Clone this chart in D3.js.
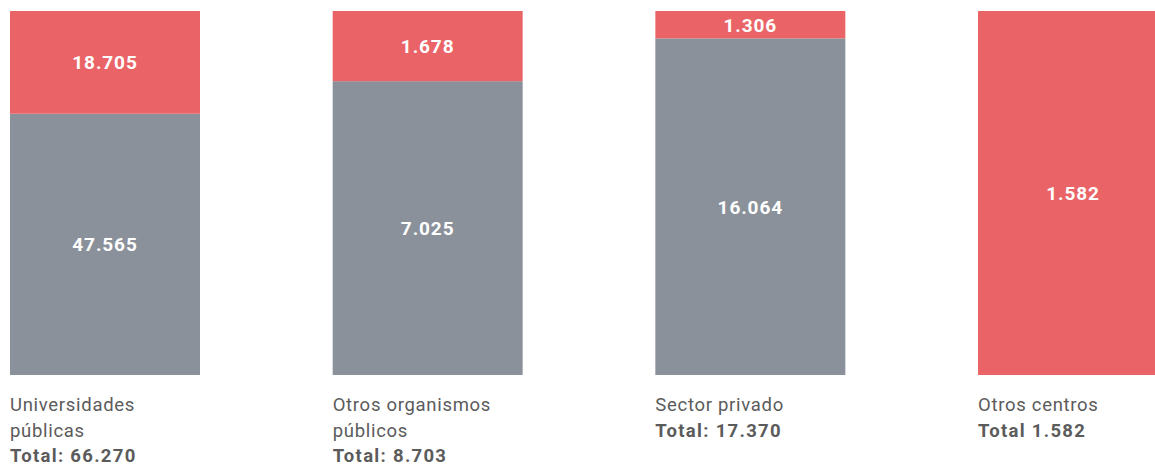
<!DOCTYPE html>
<html>
<head>
<meta charset="utf-8">
<script src="https://cdn.jsdelivr.net/npm/d3@7"></script>
<style>
  html, body { margin: 0; padding: 0; background: #fff; overflow: hidden; }
  svg { display: block; font-family: Roboto, "Noto Sans", sans-serif; }
</style>
</head>
<body>
<svg id="chart"></svg>
<script>
const categories = ["Universidades públicas", "Otros organismos públicos", "Sector privado", "Otros centros"];
const labelLines = [["Universidades", "públicas"], ["Otros organismos", "públicos"], ["Sector privado"], ["Otros centros"]];
const totalLabels = ["Total: 66.270", "Total: 8.703", "Total: 17.370", "Total 1.582"];
const grayValues = [47565, 7025, 16064, 0];
const redValues = [18705, 1678, 1306, 1582];

const w = 1155;
const h = 466;
const red = "#ea6467";
const gray = "#8a919a";

const fmt = d3.formatLocale({ decimal: ",", thousands: ".", grouping: [3], currency: ["", "€"] }).format(",d");

const svg = d3.select("#chart").attr("width", w).attr("height", h);

// bars spaced so the 4th one runs off the right edge, like the source
const x = d3.scaleBand()
  .domain(categories)
  .range([10, 1168])
  .paddingInner(0.4112)
  .paddingOuter(0);

const y = d3.scaleLinear().domain([0, 1]).range([375, 11]);

const data = categories.map((c, i) => {
  const total = grayValues[i] + redValues[i];
  return { cat: c, i, gray: grayValues[i], red: redValues[i], g: grayValues[i] / total };
});

const bars = svg.selectAll("g.bar")
  .data(data)
  .enter()
  .append("g")
  .attr("class", "bar");

// gray part (bottom)
bars.filter((d) => d.gray > 0)
  .append("rect")
  .attr("x", (d) => x(d.cat))
  .attr("y", (d) => y(d.g))
  .attr("width", x.bandwidth())
  .attr("height", (d) => y(0) - y(d.g))
  .attr("fill", gray);

// red part (top)
bars.append("rect")
  .attr("x", (d) => x(d.cat))
  .attr("y", y(1))
  .attr("width", x.bandwidth())
  .attr("height", (d) => y(d.g) - y(1))
  .attr("fill", red);

// value labels
bars.filter((d) => d.gray > 0)
  .append("text")
  .attr("x", (d) => x(d.cat) + x.bandwidth() / 2)
  .attr("y", (d) => (y(0) + y(d.g)) / 2)
  .attr("dy", "0.36em")
  .attr("text-anchor", "middle")
  .attr("fill", "#fff")
  .attr("font-weight", "bold")
  .attr("font-size", 19)
  .attr("letter-spacing", 0.9)
  .text((d) => fmt(d.gray));

bars.append("text")
  .attr("x", (d) => x(d.cat) + x.bandwidth() / 2)
  .attr("y", (d) => (y(d.g) + y(1)) / 2)
  .attr("dy", "0.36em")
  .attr("text-anchor", "middle")
  .attr("fill", "#fff")
  .attr("font-weight", "bold")
  .attr("font-size", 19)
  .attr("letter-spacing", 0.9)
  .text((d) => fmt(d.red));

// category labels below
const labels = bars.append("text")
  .attr("x", (d) => x(d.cat))
  .attr("y", 411)
  .attr("font-size", 18.5)
  .attr("letter-spacing", 0.7)
  .attr("fill", "#5b5b5b");

labels.selectAll("tspan.name")
  .data((d) => labelLines[d.i].map((l) => ({ l })))
  .enter()
  .append("tspan")
  .attr("class", "name")
  .attr("x", function () { return d3.select(this.parentNode).attr("x"); })
  .attr("dy", (d, j) => (j === 0 ? 0 : 25.5))
  .text((d) => d.l);

labels.append("tspan")
  .attr("x", (d) => x(d.cat))
  .attr("dy", 25.5)
  .attr("font-weight", "bold")
  .attr("letter-spacing", 1.3)
  .text((d) => totalLabels[d.i]);
</script>
</body>
</html>
